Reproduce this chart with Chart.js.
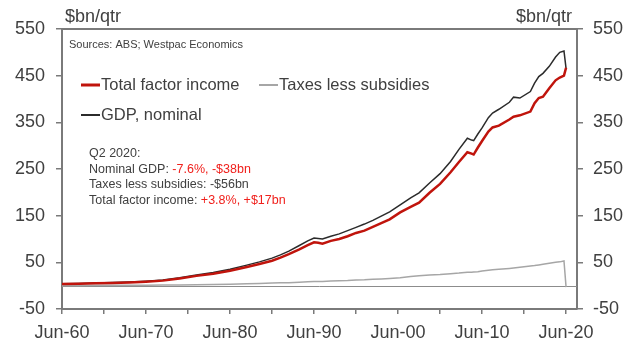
<!DOCTYPE html>
<html>
<head>
<meta charset="utf-8">
<script src="https://cdn.jsdelivr.net/npm/chart.js@4.4.0/dist/chart.umd.min.js"></script>
<style>
  body { margin: 0; background: #fff; }
  canvas { display: block; }
</style>
</head>
<body>
<canvas id="chart" width="631" height="339"></canvas>
<script>
// quarter positions as decimal years (Mar = .25, Jun = .5, Sep = .75, Dec = 1.0)
const dates = [
  1960.5, 1962.5, 1964.5, 1966.5, 1968.5, 1970.5, 1972.5, 1974.5, 1976.5, 1978.5,
  1980.5, 1982.5, 1984.0, 1985.5, 1986.5, 1987.5, 1988.75, 1989.75, 1990.5, 1991.0,
  1991.5, 1992.5, 1993.5, 1994.5, 1995.5, 1996.5, 1997.5, 1998.5, 1999.5, 2000.75,
  2002.0, 2003.0, 2004.25, 2005.5, 2006.75, 2007.75, 2008.75, 2009.25, 2009.5, 2010.0,
  2010.5, 2011.25, 2011.75, 2012.5, 2013.75, 2014.25, 2015.0, 2016.25, 2016.75, 2017.25,
  2017.75, 2018.5, 2019.25, 2019.75, 2020.25, 2020.5
];

// $bn per quarter
const gdpNominal = [
  4.3, 4.9, 5.8, 6.6, 7.9, 9.6, 12.0, 17.0, 23.0, 28.0,
  35, 44, 51, 59, 66, 74, 86, 96, 102, 101,
  100, 106, 111, 118, 125, 132, 140, 149, 158, 173,
  188, 199, 220, 240, 266, 292, 316, 312, 311, 325,
  338, 360, 370, 378, 393, 404, 402, 416, 434, 448,
  455, 470, 490, 500, 503, 465
];

const totalFactorIncome = [
  3.8, 4.3, 5.1, 5.8, 7.0, 8.6, 10.8, 15.5, 21.0, 25.6,
  32, 40, 46.5, 53.5, 60, 67.5, 78, 87, 93, 92,
  90, 96, 100, 106, 113, 118, 126, 134, 142, 157,
  169, 178, 199, 218, 243, 265, 286, 283, 281, 296,
  310, 330, 339, 343, 356, 362, 365, 373, 391, 402,
  405, 423, 440, 446, 450, 467
];

const taxesLessSubsidies = [
  0.5, 0.6, 0.7, 0.8, 0.9, 1.0, 1.2, 1.5, 2.0, 2.4,
  3, 4, 4.5, 5.5, 6, 6.5, 7.5, 8.5, 9, 9,
  9, 10, 10.5, 11, 12, 12.5, 13.5, 14.5, 15.5, 17,
  19.5, 21, 23, 24, 25.5, 27, 29, 29, 29.5, 30,
  31.5, 33, 34, 35, 37, 38, 39.5, 42, 43, 44.5,
  46, 48, 50, 51, 53, -3
];

const xTickLabels = ['Jun-60', 'Jun-70', 'Jun-80', 'Jun-90', 'Jun-00', 'Jun-10', 'Jun-20'];
const yTicks = [-50, 50, 150, 250, 350, 450, 550];

const FONT = '"Liberation Sans", Arial, sans-serif';
const TEXT = '#404040';
const AXIS = '#7a7a7a';
const RED_LINE = '#c0140c';
const RED_TEXT = '#f0201c';
const GREY_LINE = '#a6a6a6';
const DARK_LINE = '#2b2b2b';

const toPoints = (vals) => vals.map((v, i) => ({ x: dates[i], y: v }));

// positions of the x ticks: one every five years, labelled every ten
const firstTick = 1960.5;
const xTickValues = [];
for (let i = 0; i <= (xTickLabels.length - 1) * 2; i++) xTickValues.push(firstTick + i * 5);

// text, legend, zero line and top frame drawn straight onto the canvas
const notes = {
  id: 'notes',
  beforeDatasetsDraw(chart) {
    const { ctx, chartArea: a, scales } = chart;
    const y0 = scales.y.getPixelForValue(0);
    ctx.save();
    ctx.strokeStyle = '#8c8c8c';
    ctx.lineWidth = 1;
    ctx.beginPath();
    ctx.moveTo(a.left, Math.round(y0) + 0.5);
    ctx.lineTo(a.right, Math.round(y0) + 0.5);
    ctx.stroke();
    ctx.restore();
  },
  afterDraw(chart) {
    const { ctx, chartArea: a } = chart;
    ctx.save();

    // frame along the top
    ctx.strokeStyle = AXIS;
    ctx.lineWidth = 2;
    ctx.beginPath();
    ctx.moveTo(a.left, a.top);
    ctx.lineTo(a.right, a.top);
    ctx.stroke();

    ctx.textBaseline = 'middle';
    ctx.fillStyle = TEXT;

    // units above both axes
    ctx.font = '18px ' + FONT;
    ctx.textAlign = 'left';
    ctx.fillText('$bn/qtr', 65, 17);
    ctx.textAlign = 'right';
    ctx.fillText('$bn/qtr', 572, 17);

    ctx.textAlign = 'left';
    ctx.font = '11px ' + FONT;
    ctx.fillText('Sources: ABS; Westpac Economics', 69, 45);

    // legend
    const legend = [
      { label: 'Total factor income', color: RED_LINE, width: 3, x: 81, y: 85 },
      { label: 'Taxes less subsidies', color: GREY_LINE, width: 2, x: 259, y: 85 },
      { label: 'GDP, nominal', color: DARK_LINE, width: 2, x: 81, y: 115 }
    ];
    ctx.font = '16.5px ' + FONT;
    legend.forEach(item => {
      ctx.strokeStyle = item.color;
      ctx.lineWidth = item.width;
      ctx.beginPath();
      ctx.moveTo(item.x, item.y);
      ctx.lineTo(item.x + 19, item.y);
      ctx.stroke();
      ctx.fillStyle = TEXT;
      ctx.fillText(item.label, item.x + 20, item.y);
    });

    // Q2 2020 summary
    const lines = [
      [['Q2 2020:', TEXT]],
      [['Nominal GDP: ', TEXT], ['-7.6%, -$38bn', RED_TEXT]],
      [['Taxes less subsidies: -$56bn', TEXT]],
      [['Total factor income: ', TEXT], ['+3.8%, +$17bn', RED_TEXT]]
    ];
    ctx.font = '12.5px ' + FONT;
    lines.forEach((parts, i) => {
      let x = 89;
      const y = 154 + i * 15.4;
      parts.forEach(([txt, col]) => {
        ctx.fillStyle = col;
        ctx.fillText(txt, x, y);
        x += ctx.measureText(txt).width;
      });
    });

    ctx.restore();
  }
};

const yAxis = (position, width, padding) => ({
  type: 'linear',
  position: position,
  min: -50,
  max: 550,
  afterBuildTicks: (scale) => { scale.ticks = yTicks.map(v => ({ value: v })); },
  afterFit: (scale) => { scale.width = width; },
  grid: { display: true, drawOnChartArea: false, drawTicks: true, tickLength: 6, color: AXIS, lineWidth: 1.5 },
  border: { display: true, color: AXIS, width: 2 },
  ticks: { color: TEXT, font: { family: FONT, size: 18 }, padding: padding }
});

new Chart(document.getElementById('chart'), {
  type: 'line',
  data: {
    datasets: [
      {
        label: 'Total factor income',
        data: toPoints(totalFactorIncome),
        borderColor: RED_LINE,
        borderWidth: 2.5,
        pointRadius: 0,
        tension: 0,
        order: 1
      },
      {
        label: 'GDP, nominal',
        data: toPoints(gdpNominal),
        borderColor: DARK_LINE,
        borderWidth: 1.5,
        pointRadius: 0,
        tension: 0,
        order: 2
      },
      {
        label: 'Taxes less subsidies',
        data: toPoints(taxesLessSubsidies),
        borderColor: GREY_LINE,
        borderWidth: 1.5,
        pointRadius: 0,
        tension: 0,
        order: 3
      }
    ]
  },
  options: {
    responsive: false,
    animation: false,
    layout: { padding: { top: 29, right: 0, bottom: 0, left: 0 } },
    plugins: {
      legend: { display: false },
      tooltip: { enabled: false }
    },
    scales: {
      x: {
        type: 'linear',
        min: 1960.5,
        max: 2021.8,
        afterBuildTicks: (scale) => { scale.ticks = xTickValues.map(v => ({ value: v })); },
        afterFit: (scale) => { scale.height = 30; },
        grid: { display: true, drawOnChartArea: false, drawTicks: true, tickLength: 5, color: AXIS, lineWidth: 1.5 },
        border: { display: true, color: AXIS, width: 2 },
        ticks: {
          color: TEXT,
          font: { family: FONT, size: 18 },
          padding: 8,
          maxRotation: 0,
          autoSkip: false,
          callback: (value, i) => (i % 2 === 0 ? xTickLabels[i / 2] : '')
        }
      },
      y: yAxis('left', 62, 11),
      y2: yAxis('right', 54, 10)
    }
  },
  plugins: [notes]
});
</script>
</body>
</html>
